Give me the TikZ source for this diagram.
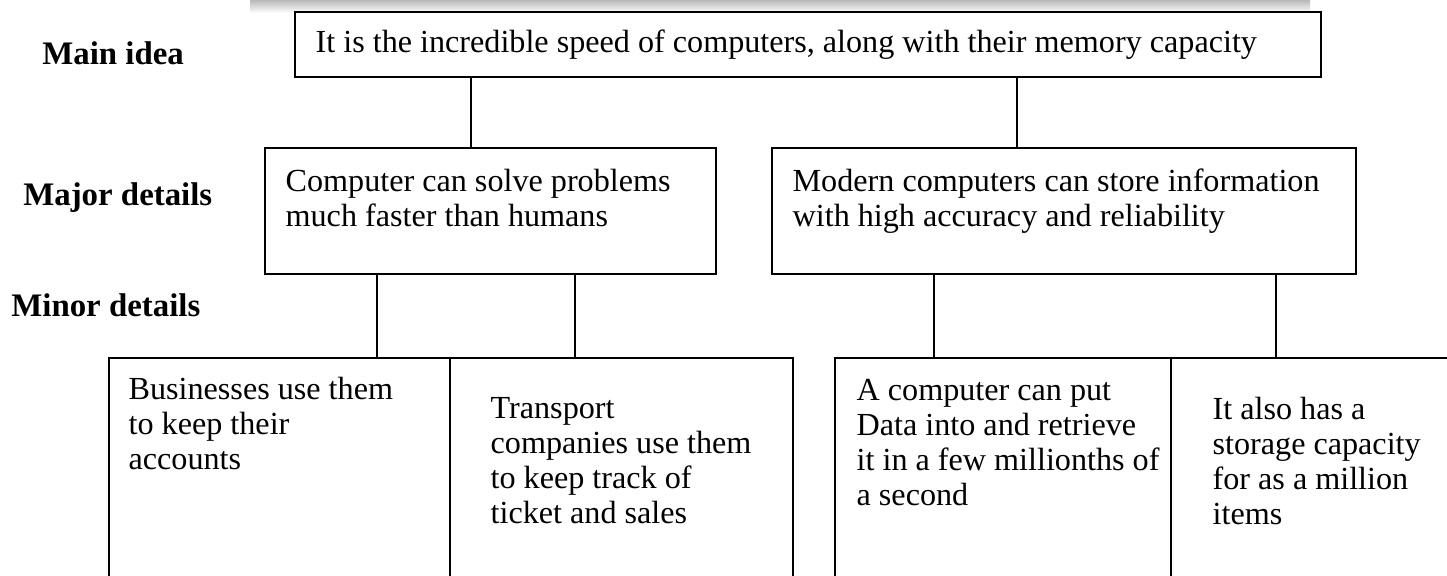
\documentclass[tikz,border=0pt]{standalone}
\usepackage{fontspec}
\setmainfont{Liberation Serif}
\usetikzlibrary{positioning}

\begin{document}
\begin{tikzpicture}[
    box/.style={draw=black, line width=0.8pt, rectangle, inner sep=0pt},
    txt/.style={anchor=north west, align=left, inner sep=0pt, font=\fontsize{18.3}{19.9}\selectfont},
    lbl/.style={anchor=west, inner sep=0pt, font=\fontsize{18.7}{20}\selectfont\bfseries},
    link/.style={draw=black, line width=0.8pt}
  ]
      % Frame (50 px = 1 cm)
      \clip (0,0) rectangle (28.94,-11.52);

      % Shadow along the top edge
      \shade[top color=gray!55, bottom color=white] (5.0,0) rectangle (26.2,-0.26);

      % Row labels
      \node[lbl] (lmain)  at (0.84,-1.06) {Main idea};
      \node[lbl] (lmajor) at (0.46,-3.96) {Major details};
      \node[lbl] (lminor) at (0.22,-6.10) {Minor details};

      % Main idea
      \node[box, minimum width=20.52cm, minimum height=1.30cm] (main) at (16.16,-0.89) {};
      \node[txt, right=0.42cm of main.west] (tmain) {It is the incredible speed of computers, along with their memory capacity};

      % Major details
      \node[box, minimum width=9.02cm, minimum height=2.52cm] (major1) at (9.81,-4.22) {};
      \node[box, minimum width=11.68cm, minimum height=2.52cm] (major2) at (21.28,-4.22) {};
      \node[txt, below right=0.44cm and 0.42cm of major1.north west] (tmajor1) {Computer can solve problems\\much faster than humans};
      \node[txt, below right=0.42cm and 0.42cm of major2.north west] (tmajor2) {Modern computers can store information\\with high accuracy and reliability};

      % Minor details
      \node[box, minimum width=6.82cm, minimum height=5.24cm] (minor1) at (5.59,-9.78) {};
      \node[box, minimum width=6.86cm, minimum height=5.24cm] (minor2) at (12.43,-9.78) {};
      \node[box, minimum width=6.72cm, minimum height=5.24cm] (minor3) at (20.06,-9.78) {};
      \node[box, minimum width=6.72cm, minimum height=5.24cm] (minor4) at (26.78,-9.78) {};
      \node[txt, below right=0.40cm and 0.40cm of minor1.north west] (tminor1) {Businesses use them\\to keep their\\accounts};
      \node[txt, below right=0.80cm and 0.82cm of minor2.north west] (tminor2) {Transport\\companies use them\\to keep track of\\ticket and sales};
      \node[txt, below right=0.44cm and 0.44cm of minor3.north west] (tminor3) {A computer can put\\Data into and retrieve\\it in a few millionths of\\a second};
      \node[txt, below right=0.80cm and 0.84cm of minor4.north west] (tminor4) {It also has a\\storage capacity\\for as a million\\items};

      % Where the connecting lines run
      \coordinate (m1) at (9.42,0);
      \coordinate (m2) at (20.34,0);
      \coordinate (d1) at (7.54,0);
      \coordinate (d2) at (11.50,0);
      \coordinate (d3) at (18.68,0);
      \coordinate (d4) at (25.52,0);

      % Connecting lines
      \draw[link] (m1 |- main.south) -- (m1 |- major1.north);
      \draw[link] (m2 |- main.south) -- (m2 |- major2.north);
      \draw[link] (d1 |- major1.south) -- (d1 |- minor1.north);
      \draw[link] (d2 |- major1.south) -- (d2 |- minor2.north);
      \draw[link] (d3 |- major2.south) -- (d3 |- minor3.north);
      \draw[link] (d4 |- major2.south) -- (d4 |- minor4.north);

    \end{tikzpicture}
\end{document}
